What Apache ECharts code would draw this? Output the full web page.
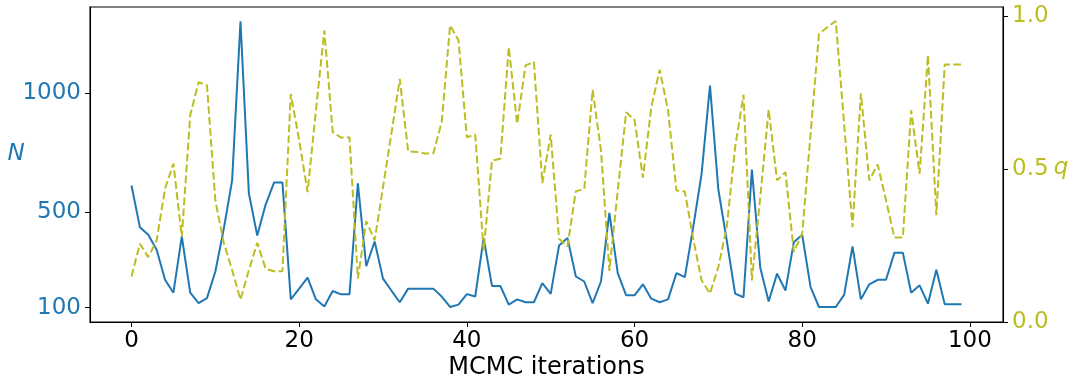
<!DOCTYPE html>
<html>
<head>
<meta charset="utf-8">
<script src="https://cdn.jsdelivr.net/npm/echarts@6/dist/echarts.min.js"></script>
<style>
html,body{margin:0;padding:0;background:#fff;}
#c{width:1073px;height:383px;}
</style>
</head>
<body>
<div id="c"></div>
<script>
// MCMC iteration index 0..99
const iterations = Array.from({length: 100}, (_, i) => i);
// N per iteration
const nValues = [613,438,406,343,217,163,399,163,119,140,
 252,430,634,1302,580,403,533,625,625,135,
 180,226,135,105,170,156,156,622,274,378,
 222,172,123,180,180,180,180,147,103,113,
 157,147,392,191,191,113,135,123,123,203,
 158,361,393,231,210,119,210,498,245,152,
 152,198,138,123,135,245,228,438,662,1032,
 595,382,159,144,680,268,126,243,172,375,
 406,186,103,103,103,154,357,135,198,217,
 217,331,331,163,194,117,259,114,114,114];
// q per iteration
const qValues = [0.149,0.256,0.212,0.267,0.436,0.518,0.278,0.676,0.784,0.774,
 0.398,0.26,0.17,0.073,0.169,0.259,0.174,0.166,0.166,0.746,
 0.594,0.425,0.692,0.953,0.621,0.603,0.604,0.142,0.330,0.267,
 0.441,0.616,0.795,0.558,0.556,0.551,0.551,0.654,0.970,0.921,
 0.604,0.613,0.234,0.528,0.534,0.899,0.648,0.839,0.850,0.454,
 0.613,0.272,0.247,0.428,0.434,0.759,0.561,0.167,0.430,0.686,
 0.661,0.472,0.703,0.825,0.692,0.430,0.427,0.272,0.136,0.093,
 0.180,0.310,0.572,0.743,0.136,0.409,0.695,0.463,0.490,0.229,
 0.289,0.616,0.942,0.964,0.984,0.648,0.310,0.748,0.463,0.515,
 0.398,0.276,0.276,0.692,0.485,0.872,0.349,0.842,0.842,0.842];
const xTicks = [0,20,40,60,80,100];
const nTicks = [100,500,1000];
const qTicks = [0,0.5,1.0];

const BLUE = '#1f77b4', OLIVE = '#bcbd22';
const FONT = 'DejaVu Sans';
const FS = 23;

const chart = echarts.init(document.getElementById('c'), null, {renderer: 'canvas'});
chart.setOption({
  animation: false,
  backgroundColor: '#fff',
  grid: {left: 90, right: 70, top: 7, bottom: 61, containLabel: false, outerBoundsMode: 'none',
    show: true, borderColor: '#000', borderWidth: 1.1},
  graphic: [
    {type: 'text', x: 16, y: 154, silent: true,
      style: {text: 'N', fill: BLUE, font: 'italic 23px "DejaVu Sans"', align: 'center', verticalAlign: 'middle'}},
    {type: 'text', x: 1061, y: 168, silent: true,
      style: {text: 'q', fill: OLIVE, font: 'italic 23px "DejaVu Sans"', align: 'center', verticalAlign: 'middle'}}
  ],
  xAxis: {
    type: 'value', min: -4.95, max: 103.95,
    name: 'MCMC iterations', nameLocation: 'middle', nameGap: 34, nameMoveOverlap: false,
    nameTextStyle: {fontFamily: FONT, fontSize: 24, color: '#000'},
    axisLine: {show: true, onZero: false, lineStyle: {color: '#000', width: 1.1}},
    axisTick: {show: true, length: 5, customValues: xTicks, lineStyle: {color: '#000'}},
    axisLabel: {customValues: xTicks, fontFamily: FONT, fontSize: FS, color: '#000', margin: 8,
      formatter: v => String(v)},
    splitLine: {show: false}
  },
  yAxis: [{
    type: 'value', min: 40, max: 1362, position: 'left',
    axisLine: {show: true, onZero: false, lineStyle: {color: '#000', width: 1.1}},
    axisTick: {show: true, length: 5, customValues: nTicks, lineStyle: {color: '#000'}},
    axisLabel: {customValues: nTicks, fontFamily: FONT, fontSize: FS, color: BLUE, margin: 9,
      formatter: v => String(v)},
    splitLine: {show: false}
  },{
    type: 'value', min: 0, max: 1.03, position: 'right',
    axisLine: {show: true, onZero: false, lineStyle: {color: '#000', width: 1.1}},
    axisTick: {show: true, length: 5, customValues: qTicks, lineStyle: {color: '#000'}},
    axisLabel: {customValues: qTicks, fontFamily: FONT, fontSize: FS, color: OLIVE, margin: 9,
      formatter: v => v.toFixed(1)},
    splitLine: {show: false}
  }],
  series: [{
    type: 'line', yAxisIndex: 0, showSymbol: false, symbol: 'none', name: 'N',
    data: iterations.map((x, i) => [x, nValues[i]]),
    lineStyle: {color: BLUE, width: 2}, itemStyle: {color: BLUE}, z: 2
  },{
    type: 'line', yAxisIndex: 1, showSymbol: false, symbol: 'none', name: 'q',
    data: iterations.map((x, i) => [x, qValues[i]]),
    lineStyle: {color: OLIVE, width: 2, type: [7.7, 3.3]}, itemStyle: {color: OLIVE}, z: 3
  }]
});
</script>
</body>
</html>
